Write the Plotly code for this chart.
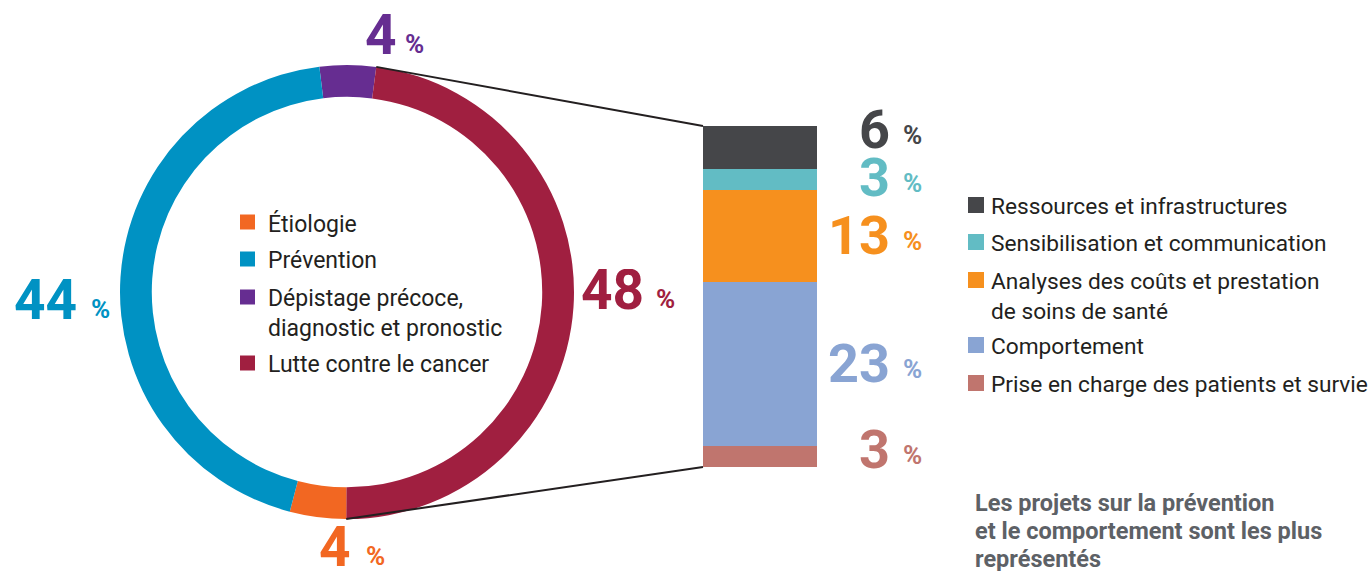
import math
import plotly.graph_objects as go

W, H = 1371, 572

# ---------------- data ----------------
donut_labels = ["Dépistage précoce, diagnostic et pronostic", "Lutte contre le cancer",
                "Étiologie", "Prévention"]
donut_values = [4, 48, 4, 44]
donut_colors = ["#662d91", "#a01f40", "#f26722", "#0092c3"]

# bar segments, bottom to top
bar_labels = ["Prise en charge des patients et survie", "Comportement",
              "Analyses des coûts et prestation de soins de santé",
              "Sensibilisation et communication", "Ressources et infrastructures"]
bar_values = [3, 23, 13, 3, 6]
bar_colors = ["#c0756e", "#89a4d3", "#f6901e", "#62bcc4", "#454649"]

donut_legend_text = ["Étiologie", "Prévention", "Dépistage précoce,<br>diagnostic et pronostic",
                     "Lutte contre le cancer"]
donut_legend_colors = ["#f26722", "#0092c3", "#662d91", "#a01f40"]

bar_legend_text = ["Ressources et infrastructures", "Sensibilisation et communication",
                   "Analyses des coûts et prestation<br>de soins de santé", "Comportement",
                   "Prise en charge des patients et survie"]
bar_legend_colors = ["#454649", "#62bcc4", "#f6901e", "#89a4d3", "#c0756e"]

note_lines = ["Les projets sur la prévention", "et le comportement sont les plus", "représentés"]

# ---------------- geometry helpers ----------------
def px(x):
    return x / W

def py(y):
    return 1 - y / H

cx, cy, R = 347, 292, 227
rot = -7.0
bar_x0, bar_x1, bar_top, bar_bot = 703, 817, 126, 467

fig = go.Figure()

fig.add_trace(go.Pie(
    labels=donut_labels, values=donut_values, sort=False, direction="clockwise",
    rotation=rot, hole=0.86, textinfo="none", showlegend=False,
    marker=dict(colors=donut_colors, line=dict(width=0)),
    domain=dict(x=[px(cx - R), px(cx + R)], y=[py(cy + R), py(cy - R)]),
))

for lab, v, c in zip(bar_labels, bar_values, bar_colors):
    fig.add_trace(go.Bar(x=[0], y=[v], name=lab, marker=dict(color=c, line=dict(width=0)),
                         showlegend=False, xaxis="x", yaxis="y"))

total_bar = sum(bar_values)

# connecting lines from donut boundaries to bar corners
tot = sum(donut_values)
th1 = math.radians(rot + 360 * donut_values[0] / tot)
th2 = math.radians(rot + 360 * (donut_values[0] + donut_values[1]) / tot)
p1 = (cx + R * math.sin(th1), cy - R * math.cos(th1))
p2 = (cx + R * math.sin(th2), cy - R * math.cos(th2))
shapes = [
    dict(type="line", xref="paper", yref="paper", x0=px(p1[0]), y0=py(p1[1]),
         x1=px(bar_x0), y1=py(bar_top), line=dict(color="#231f20", width=2)),
    dict(type="line", xref="paper", yref="paper", x0=px(p2[0]), y0=py(p2[1]),
         x1=px(bar_x0), y1=py(bar_bot), line=dict(color="#231f20", width=2)),
]

annotations = []
FONT = "Roboto, Arial, sans-serif"

# center legend
leg_y = [222, 259, 297, 363]
for t, c, y in zip(donut_legend_text, donut_legend_colors, leg_y):
    shapes.append(dict(type="rect", xref="paper", yref="paper", x0=px(240), x1=px(255),
                       y0=py(y + 7.5), y1=py(y - 7.5), fillcolor=c, line=dict(width=0)))
    annotations.append(dict(text=t, x=px(266), y=py(y - 14), xref="paper", yref="paper",
                            xanchor="left", yanchor="top", showarrow=False, align="left",
                            font=dict(family=FONT, size=23, color="#231f20")))

# right legend
rleg_y = [205, 242, 280, 345, 383]
for t, c, y in zip(bar_legend_text, bar_legend_colors, rleg_y):
    shapes.append(dict(type="rect", xref="paper", yref="paper", x0=px(968), x1=px(984),
                       y0=py(y + 8), y1=py(y - 8), fillcolor=c, line=dict(width=0)))
    annotations.append(dict(text=t, x=px(989), y=py(y - 14), xref="paper", yref="paper",
                            xanchor="left", yanchor="top", showarrow=False, align="left",
                            font=dict(family=FONT, size=22.7, color="#231f20")))

# donut percent labels: (value index, number right x, % left x, center y)
donut_lbl = [(0, 399, 403, 35), (3, 79, 89, 300), (1, 646, 654, 290), (2, 353, 364, 547)]
for i, xr, xl, y in donut_lbl:
    annotations.append(dict(text=f"<b>{donut_values[i]}</b>", x=px(xr), y=py(y), xref="paper",
                            yref="paper", xanchor="right", yanchor="middle", showarrow=False,
                            height=42, valign="middle",
                            font=dict(family=FONT, size=55, color=donut_colors[i])))
    annotations.append(dict(text="<b>%</b>", x=px(xl), y=py(y + 9), xref="paper",
                            yref="paper", xanchor="left", yanchor="middle", showarrow=False,
                            height=22, valign="middle",
                            font=dict(family=FONT, size=26, color=donut_colors[i])))

# bar percent labels (index into bar arrays, center y)
bar_lbl = [(4, 129), (3, 177), (2, 235), (1, 363), (0, 449)]
for i, y in bar_lbl:
    annotations.append(dict(text=f"<b>{bar_values[i]}</b>", x=px(892), y=py(y), xref="paper",
                            yref="paper", xanchor="right", yanchor="middle", showarrow=False,
                            height=40, valign="middle",
                            font=dict(family=FONT, size=54, color=bar_colors[i])))
    annotations.append(dict(text="<b>%</b>", x=px(901), y=py(y + 6), xref="paper",
                            yref="paper", xanchor="left", yanchor="middle", showarrow=False,
                            height=22, valign="middle",
                            font=dict(family=FONT, size=26, color=bar_colors[i])))

# note
for k, t in enumerate(note_lines):
    annotations.append(dict(text=f"<b>{t}</b>", x=px(973), y=py(503 + 28 * k), xref="paper",
                            yref="paper", xanchor="left", yanchor="middle", showarrow=False,
                            height=24, valign="middle",
                            font=dict(family=FONT, size=23.5, color="#5d6166")))

fig.update_layout(
    width=W, height=H, margin=dict(l=0, r=0, t=0, b=0),
    paper_bgcolor="white", plot_bgcolor="white",
    barmode="stack", bargap=0,
    xaxis=dict(domain=[px(bar_x0), px(bar_x1)], range=[-0.5, 0.5], visible=False, fixedrange=True),
    yaxis=dict(domain=[py(bar_bot), py(bar_top)], range=[0, total_bar], visible=False, fixedrange=True),
    shapes=shapes, annotations=annotations, showlegend=False,
)

fig.write_html("out.html", config={"displayModeBar": False},
               post_script="document.body.style.margin='0';document.body.style.overflow='hidden';")
